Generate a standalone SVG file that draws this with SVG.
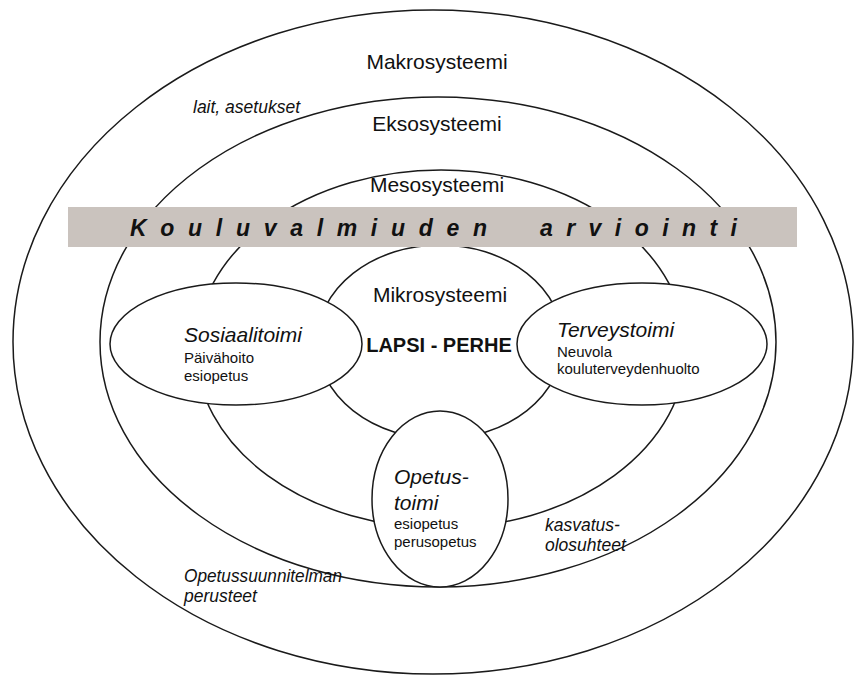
<svg xmlns="http://www.w3.org/2000/svg" width="854" height="675" viewBox="0 0 854 675">
  <style>
    .ring { fill: none; stroke: #1a1a1a; stroke-width: 1.5; }
    .node { fill: #ffffff; stroke: #1a1a1a; stroke-width: 1.5; }
    text { font-family: "Liberation Sans", Arial, sans-serif; fill: #111111; }
    .lvl { font-size: 21px; }
    .head { font-size: 21px; font-style: italic; }
    .sub { font-size: 15px; }
    .note { font-size: 17.5px; font-style: italic; }
    .bar { fill: #cac3be; }
    .banner { font-size: 23px; font-weight: bold; font-style: italic; }
  </style>

  <rect width="854" height="675" fill="#ffffff"/>

  <!-- nested system rings -->
  <g id="rings">
    <ellipse id="makro" class="ring" cx="433" cy="342" rx="420" ry="332"/>
    <ellipse id="ekso" class="ring" cx="438" cy="342" rx="338" ry="245"/>
    <ellipse id="meso" class="ring" cx="441" cy="349" rx="245" ry="179"/>
    <ellipse id="mikro" class="ring" cx="440" cy="342" rx="123" ry="97"/>
  </g>

  <!-- banner across the rings -->
  <g id="banner">
    <rect class="bar" x="68" y="207" width="729" height="40"/>
    <text class="banner" x="130" y="236" textLength="357" lengthAdjust="spacing">Kouluvalmiuden</text>
    <text class="banner" x="540" y="236" textLength="197" lengthAdjust="spacing">arviointi</text>
  </g>

  <!-- ring labels -->
  <g id="labels">
    <text class="lvl" x="437" y="69" text-anchor="middle">Makrosysteemi</text>
    <text class="note" x="193" y="113">lait, asetukset</text>
    <text class="lvl" x="437" y="131" text-anchor="middle">Eksosysteemi</text>
    <text class="lvl" x="437" y="192" text-anchor="middle">Mesosysteemi</text>
    <text class="lvl" x="440" y="302" text-anchor="middle">Mikrosysteemi</text>
    <text x="439" y="352" text-anchor="middle" font-size="20" font-weight="bold">LAPSI - PERHE</text>
    <text class="note" x="545" y="531">kasvatus-</text>
    <text class="note" x="545" y="551">olosuhteet</text>
    <text class="note" x="184" y="582" textLength="158" lengthAdjust="spacingAndGlyphs">Opetussuunnitelman</text>
    <text class="note" x="184" y="602">perusteet</text>
  </g>

  <!-- service sectors -->
  <g id="sosiaalitoimi">
    <ellipse class="node" cx="236" cy="344" rx="126" ry="61"/>
    <text class="head" x="184" y="342">Sosiaalitoimi</text>
    <text class="sub" x="184" y="363">Päivähoito</text>
    <text class="sub" x="184" y="381">esiopetus</text>
  </g>

  <g id="terveystoimi">
    <ellipse class="node" cx="642" cy="344" rx="125" ry="61"/>
    <text class="head" x="557" y="337">Terveystoimi</text>
    <text class="sub" x="557" y="357">Neuvola</text>
    <text class="sub" x="557" y="374">kouluterveydenhuolto</text>
  </g>

  <g id="opetustoimi">
    <ellipse class="node" cx="440" cy="499" rx="68" ry="88"/>
    <text class="head" x="394" y="484">Opetus-</text>
    <text class="head" x="394" y="510">toimi</text>
    <text class="sub" x="394" y="529">esiopetus</text>
    <text class="sub" x="394" y="547">perusopetus</text>
  </g>
</svg>
